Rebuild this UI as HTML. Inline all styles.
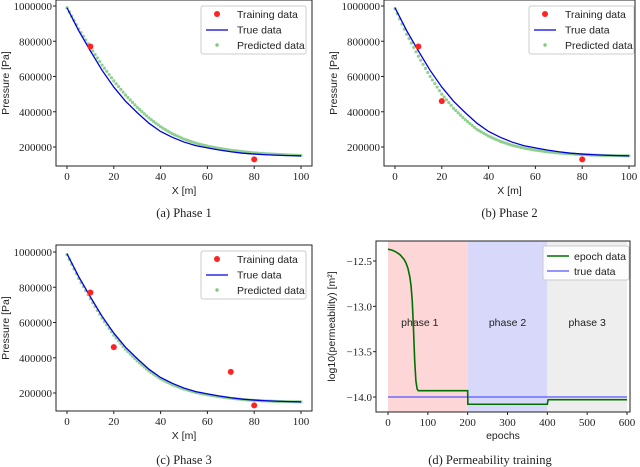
<!DOCTYPE html>
<html><head><meta charset="utf-8"><style>
body{margin:0;background:#fff;width:640px;height:467px;overflow:hidden}
svg{display:block}
.tk{font-family:"Liberation Serif",serif;font-size:11px;fill:#222}
.lb{font-family:"Liberation Sans",sans-serif;font-size:10.5px;fill:#222}
.cap{font-family:"Liberation Serif",serif;font-size:12.5px;fill:#222}
</style></head><body>
<svg id="s" width="640" height="467" xmlns="http://www.w3.org/2000/svg"></svg>
<script>
const xs=[0,5,10,15,20,25,30,35,40,45,50,55,60,65,70,75,80,85,90,95,100];
const trueP=[990,860,745,635,540,460,395,335,288,255,228,208,195,183,173,165,160,156,153,151,150];
const predA=[990,870,765,665,575,495,425,365,315,275,245,222,205,192,182,174,167,162,158,155,152];
const predB=[985,840,715,600,500,420,355,300,262,232,210,194,182,173,166,161,157,154,152,151,150];
const predC=[985,850,735,625,528,448,382,325,280,247,222,203,190,179,170,163,158,155,152,151,150];
const trainAx=[10,80], trainAy=[770,130];
const trainBx=[10,20,80], trainBy=[770,460,130];
const trainCx=[10,20,70,80], trainCy=[770,460,320,130];
const pTicks=[200000,400000,600000,800000,1000000];
const xTicks=[0,20,40,60,80,100];
const epochX=[0,10,20,30,40,45,50,55,58,61,64,67,70,73,76,200,200.5,400,402,600];
const epochY=[-12.37,-12.38,-12.40,-12.43,-12.48,-12.52,-12.58,-12.68,-12.78,-12.95,-13.25,-13.6,-13.82,-13.91,-13.93,-13.93,-14.08,-14.08,-14.03,-14.03];
const trueK=-14.0;
const eTicks=[0,100,200,300,400,500,600];
const kTicks=[-12.5,-13.0,-13.5,-14.0];
const phases=["phase 1","phase 2","phase 3"];
const phaseStart=[0,200,400];

const S=document.getElementById('s');const NS='http://www.w3.org/2000/svg';
function mk(t,a,p){const e=document.createElementNS(NS,t);for(const k in a)e.setAttribute(k,a[k]);(p||S).appendChild(e);return e;}
function txt(x,y,s,c,anchor,p){const e=mk('text',{x:x,y:y,class:c,'text-anchor':anchor||'middle'},p);e.textContent=s;return e;}

function pressurePanel(L,T,R,B,x0px,x100px,y1m,y200k,pred,tx,ty,cap,capY,id){
  const g=mk('g',{});
  
  
  const X=v=>x0px+(x100px-x0px)*v/100;
  const Y=v=>y200k-(v-200000)*(y200k-y1m)/800000;
  const fr=mk('rect',{x:L,y:T,width:R-L,height:B-T,fill:'none',stroke:'#222','stroke-width':1},g);
  
  pTicks.forEach(v=>{mk('line',{x1:L-3,x2:L,y1:Y(v),y2:Y(v),stroke:'#222'},g);
    const t=txt(L-4,Y(v)+4,String(v),'tk','end',g);});
  xTicks.forEach(v=>{mk('line',{x1:X(v),x2:X(v),y1:B,y2:B+3,stroke:'#222'},g);
    const t=txt(X(v),B+14,String(v),'tk','middle',g);});
  const xl=txt((L+R)/2,B+28,'X [m]','lb','middle',g);
  const yl=txt(0,0,'Pressure [Pa]','lb','middle',g);yl.setAttribute('transform','translate('+(L-47)+','+((T+B)/2)+') rotate(-90)');
  
  pred.forEach((v,i)=>{
    const c=mk('circle',{cx:X(xs[i]),cy:Y(v*1000),r:1.6,fill:'#7fc97f','fill-opacity':0.85},g);
    
    if(i<pred.length-1){for(let k=1;k<5;k++){const f=k/5;
      const m=mk('circle',{cx:X(xs[i]+(xs[i+1]-xs[i])*f),cy:Y((v+(pred[i+1]-v)*f)*1000),r:1.6,fill:'#7fc97f','fill-opacity':0.85},g);
      }}
  });
  const pl=mk('polyline',{points:trueP.map((v,i)=>X(xs[i])+','+Y(v*1000)).join(' '),fill:'none',stroke:'#0000e0','stroke-width':1.3},g);
  
  tx.forEach((v,i)=>{const c=mk('circle',{cx:X(v),cy:Y(ty[i]*1000),r:3,fill:'#f22'},g);
    });
  const lx=L+145,ly=T+6;
  const lg=mk('rect',{x:lx,y:ly,width:105,height:48,fill:'#fff',stroke:'#ccc',rx:2},g);
  
  mk('circle',{cx:lx+16,cy:ly+8,r:3,fill:'#f22'},g);
  mk('line',{x1:lx+5,x2:lx+27,y1:ly+24,y2:ly+24,stroke:'#0000e0','stroke-width':1.3},g);
  mk('circle',{cx:lx+16,cy:ly+39,r:1.7,fill:'#7fc97f'},g);
  ['Training data','True data','Predicted data'].forEach((s,i)=>{const t=txt(lx+36,ly+12+i*15.5,s,'lb','start',g);
    });
  const c=txt((L+R)/2,capY,cap,'cap','middle',g);
}
pressurePanel(56,0,312,166,67,301,6,147,predA,trainAx,trainAy,'(a)  Phase 1',217,'a');
pressurePanel(384,0,635,166,395,629,6,147,predB,trainBx,trainBy,'(b)  Phase 2',217,'b');
pressurePanel(56,245,312,411,67,301,252,393,predC,trainCx,trainCy,'(c)  Phase 3',464,'c');

(function(){
  const L=376,T=241,R=630,B=412;
  const g=mk('g',{});
  
  
  const X=v=>388+(627-388)*v/600;
  const Y=v=>261+(v+12.5)*(-(397-261)/1.5);
  const cols=['#fdd7d7','#d8d8fb','#eeeeee'];
  phaseStart.forEach((p,i)=>{const r=mk('rect',{x:X(p),y:T,width:X(p+200)-X(p),height:B-T,fill:cols[i]},g);
    
    const t=txt(X(p+100)-(i==0?8:0),326,phases[i],'lb','middle',g);t.setAttribute('font-size','12');
    });
  const tl=mk('line',{x1:X(0),x2:X(600),y1:Y(trueK),y2:Y(trueK),stroke:'#5555ff','stroke-width':1.3},g);
  
  const el=mk('polyline',{points:epochX.map((v,i)=>X(v)+','+Y(epochY[i])).join(' '),fill:'none',stroke:'#007000','stroke-width':1.6},g);
  
  const fr=mk('rect',{x:L,y:T,width:R-L,height:B-T,fill:'none',stroke:'#222'},g);
  
  eTicks.forEach(v=>{mk('line',{x1:X(v),x2:X(v),y1:B,y2:B+3,stroke:'#222'},g);
    const t=txt(X(v),B+14,String(v),'tk','middle',g);});
  kTicks.forEach(v=>{mk('line',{x1:L-3,x2:L,y1:Y(v),y2:Y(v),stroke:'#222'},g);
    const t=txt(L-4,Y(v)+4,'\u2212'+Math.abs(v).toFixed(1),'tk','end',g);});
  const xl=txt((L+R)/2,B+27,'epochs','lb','middle',g);
  const yl=txt(0,0,'log10(permeability) [m\u00b2]','lb','middle',g);yl.setAttribute('transform','translate(335,'+((T+B)/2)+') rotate(-90)');
  
  const lx=543,ly=T+5;
  const lg=mk('rect',{x:lx,y:ly,width:86,height:34,fill:'#fff','fill-opacity':0.85,stroke:'#ccc',rx:2},g);
  
  mk('line',{x1:lx+4,x2:lx+26,y1:ly+10,y2:ly+10,stroke:'#007000','stroke-width':1.6},g);
  mk('line',{x1:lx+4,x2:lx+26,y1:ly+25,y2:ly+25,stroke:'#5555ff','stroke-width':1.3},g);
  ['epoch data','true data'].forEach((s,i)=>{const t=txt(lx+31,ly+14+i*15,s,'lb','start',g);
    });
  const c=txt(490,464,'(d)  Permeability training','cap','middle',g);
})();
</script>
</body></html>
